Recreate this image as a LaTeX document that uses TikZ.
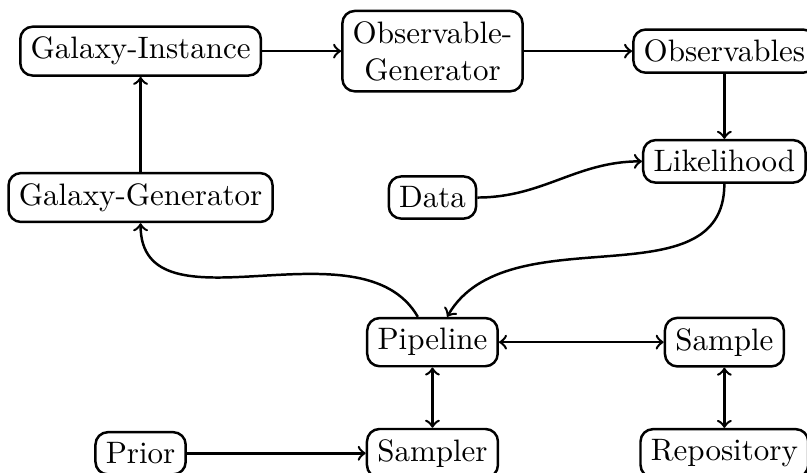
\documentclass[tikz,border=0pt]{standalone}
\usepackage{amsmath,amssymb}
\usepackage{tikz}

\begin{document}
\begin{tikzpicture}[box/.style={draw,thick,rounded corners},
  conn/.style={thick,->},both/.style={thick,<->}]
\clip (-1.594,-0.216) rectangle (7.557,5.14);
\node[box] (instance) at (0,4.56) {Galaxy-Instance};
\node[box,align=center] (obsgen) at (3.31,4.56) {Observable-\\Generator};
\node[box] (observables) at (6.62,4.56) {Observables};
\node[box] (likelihood) at (6.62,3.31) {Likelihood};
\node[box] (generator) at (0,2.90) {Galaxy-Generator};
\node[box] (data) at (3.31,2.90) {Data};
\node[box] (pipeline) at (3.31,1.26) {Pipeline};
\node[box] (sample) at (6.62,1.26) {Sample};
\node[box] (prior) at (0,0) {Prior};
\node[box] (sampler) at (3.31,0) {Sampler};
\node[box] (repository) at (6.62,0) {Repository};
\draw[conn] (instance) -- (obsgen);
\draw[conn] (obsgen) -- (observables);
\draw[conn] (observables) -- (likelihood);
\draw[conn] (data) to[out=0,in=180] (likelihood);
\draw[conn] (likelihood) to[out=-90,in=60] (pipeline);
\draw[conn] (pipeline) to[out=120,in=-90] (generator);
\draw[conn] (generator) -- (instance);
\draw[both] (pipeline) -- (sample);
\draw[both] (pipeline) -- (sampler);
\draw[both] (sample) -- (repository);
\draw[conn] (prior) -- (sampler);
\end{tikzpicture}
\end{document}
